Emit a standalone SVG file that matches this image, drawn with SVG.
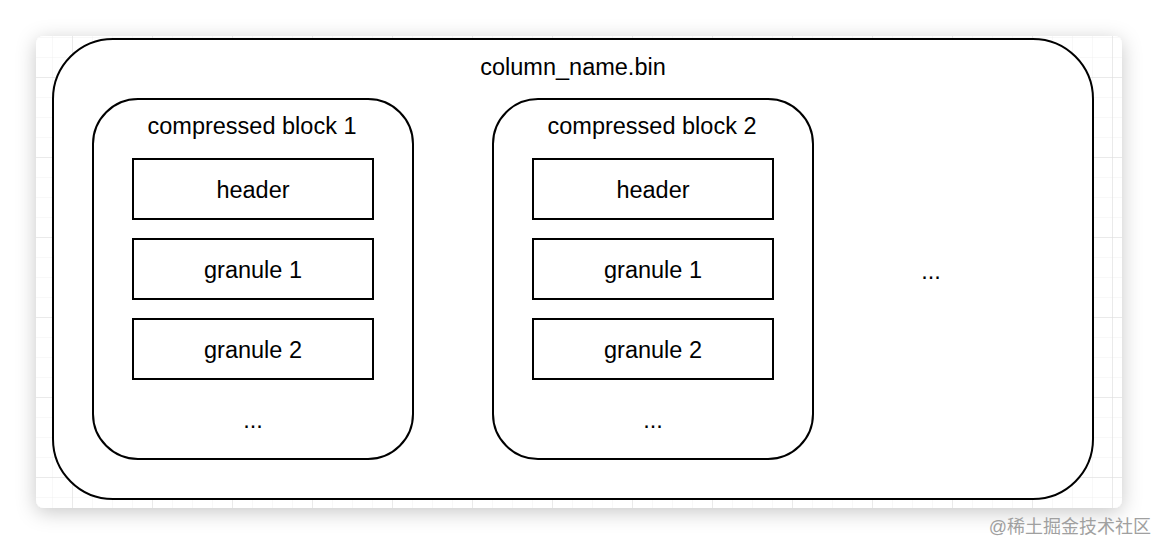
<svg xmlns="http://www.w3.org/2000/svg" width="1158" height="544" viewBox="0 0 1158 544">
<defs>
<pattern id="minor" x="13" y="18" width="20" height="20" patternUnits="userSpaceOnUse">
<path d="M20 0V20M0 20H20" fill="none" stroke="#f0f0f0" stroke-width="1"/>
</pattern>
<pattern id="major" x="-7" y="-2" width="80" height="80" patternUnits="userSpaceOnUse">
<path d="M80 0V80M0 80H80" fill="none" stroke="#dcdcdc" stroke-width="1"/>
</pattern>
<filter id="sh" x="-10%" y="-20%" width="120%" height="140%">
<feDropShadow dx="0" dy="4" stdDeviation="10" flood-color="#000" flood-opacity="0.22"/>
</filter>
<clipPath id="card"><rect x="36" y="36" width="1086" height="472" rx="8"/></clipPath>
</defs>
<style>
.box{fill:#fff;stroke:#000;stroke-width:2}
.t{font-family:"Liberation Sans",Arial,Helvetica,sans-serif;font-size:23.5px;fill:#000;text-anchor:middle}
</style>
<rect width="1158" height="544" fill="#fff"/>
<rect x="36" y="36" width="1086" height="472" rx="8" fill="#fff" filter="url(#sh)"/>
<g clip-path="url(#card)">
<rect x="36" y="36" width="1086" height="472" fill="url(#minor)"/>
<rect x="36" y="36" width="1086" height="472" fill="url(#major)"/>
</g>
<g id="file">
<rect class="box" x="53" y="39" width="1040" height="460" rx="60"/>
<text class="t" x="573" y="75">column_name.bin</text>
<text class="t" x="931" y="279">...</text>
</g>
<g id="block1">
<rect class="box" x="93" y="99" width="320" height="360" rx="45"/>
<text class="t" x="252" y="134">compressed block 1</text>
<text class="t" x="253" y="428">...</text>
</g>
<g id="b1-header"><rect class="box" x="133" y="159" width="240" height="60"/><text class="t" x="253" y="198">header</text></g>
<g id="b1-granule1"><rect class="box" x="133" y="239" width="240" height="60"/><text class="t" x="253" y="278">granule 1</text></g>
<g id="b1-granule2"><rect class="box" x="133" y="319" width="240" height="60"/><text class="t" x="253" y="358">granule 2</text></g>
<g id="block2">
<rect class="box" x="493" y="99" width="320" height="360" rx="45"/>
<text class="t" x="652" y="134">compressed block 2</text>
<text class="t" x="653" y="428">...</text>
</g>
<g id="b2-header"><rect class="box" x="533" y="159" width="240" height="60"/><text class="t" x="653" y="198">header</text></g>
<g id="b2-granule1"><rect class="box" x="533" y="239" width="240" height="60"/><text class="t" x="653" y="278">granule 1</text></g>
<g id="b2-granule2"><rect class="box" x="533" y="319" width="240" height="60"/><text class="t" x="653" y="358">granule 2</text></g>
<g id="connectors"/>
<text x="1151" y="533" text-anchor="end" font-family="'Liberation Sans','Noto Sans CJK SC',sans-serif" font-size="18" fill="#a0a0a0">@稀土掘金技术社区</text>
</svg>
